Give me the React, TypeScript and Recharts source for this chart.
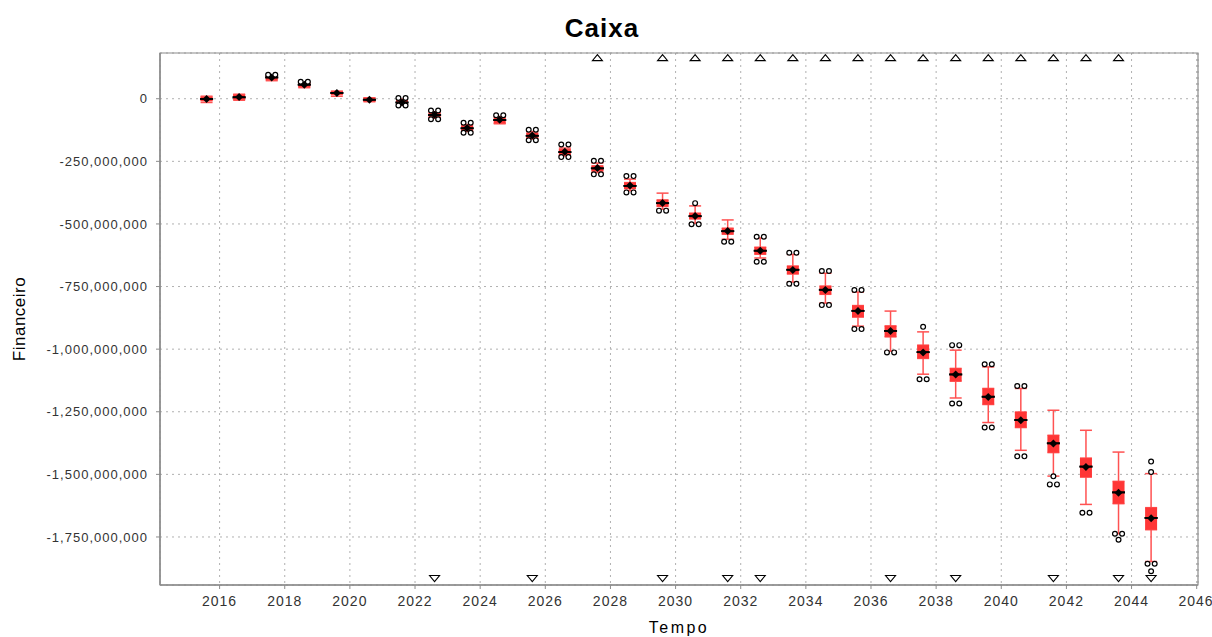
import React from "react";
import {
  CartesianGrid,
  ComposedChart,
  ErrorBar,
  ReferenceArea,
  Scatter,
  XAxis,
  YAxis
} from "recharts";

const M = 1000000;
const FONT = "'Liberation Sans', Arial, sans-serif";

// box positions on the time axis
const years = [
  2015.6, 2016.6, 2017.6, 2018.6, 2019.6, 2020.6, 2021.6, 2022.6, 2023.6, 2024.6,
  2025.6, 2026.6, 2027.6, 2028.6, 2029.6, 2030.6, 2031.6, 2032.6, 2033.6, 2034.6,
  2035.6, 2036.6, 2037.6, 2038.6, 2039.6, 2040.6, 2041.6, 2042.6, 2043.6, 2044.6
];

// values in millions
const means = [
  -1, 7, 85, 56, 23, -4, -15, -64, -117, -84,
  -147, -212, -277, -347, -416, -468, -528, -607, -684, -764,
  -848, -928, -1013, -1101, -1191, -1284, -1377, -1471, -1573, -1675
];
const medians = [
  -1, 6, 85, 56, 23, -4, -15, -65, -118, -85,
  -148, -213, -278, -348, -417, -469, -529, -607, -683, -763,
  -847, -927, -1012, -1101, -1190, -1283, -1376, -1469, -1572, -1674
];
const q3s = [
  7, 16, 90, 63, 29, 3, -6, -57, -108, -75,
  -137, -203, -268, -335, -404, -457, -517, -593, -668, -748,
  -826, -907, -984, -1077, -1157, -1251, -1344, -1435, -1528, -1633
];
const q1s = [
  -8, -2, 76, 47, 17, -10, -24, -75, -128, -98,
  -158, -226, -289, -359, -430, -480, -541, -621, -700, -781,
  -872, -951, -1037, -1128, -1221, -1313, -1413, -1511, -1617, -1721
];
const whiskerHighs = [
  10, 18, 92, 65, 30, 4, -2, -52, -103, -71,
  -131, -197, -257, -321, -377, -428, -484, -556, -622, -697,
  -772, -848, -931, -1004, -1071, -1157, -1244, -1324, -1411, -1497
];
const whiskerLows = [
  -15, -6, 72, 44, 10, -12, -25, -78, -131, -100,
  -161, -228, -295, -367, -441, -497, -561, -636, -732, -816,
  -908, -1008, -1100, -1195, -1293, -1404, -1507, -1620, -1737, -1848
];
const outliers: number[][] = [
  [], [], [96, 96], [68, 68], [], [], [3, 3, -27, -27], [-47, -47, -82, -82], [-96, -96, -136, -136], [-66, -66],
  [-124, -124, -166, -166], [-183, -183, -233, -233], [-248, -248, -302, -302], [-309, -309, -374, -374], [-447, -447],
  [-417, -501, -501], [-571, -571], [-551, -551, -651, -651], [-615, -615, -739, -739], [-688, -688, -824, -824],
  [-764, -764, -920, -920], [-1013, -1013], [-911, -1120, -1120], [-984, -984, -1217, -1217], [-1060, -1060, -1313, -1313],
  [-1147, -1147, -1428, -1428], [-1508, -1540, -1540], [-1653, -1653], [-1737, -1737, -1761], [-1449, -1491, -1857, -1857, -1887]
];

// years with values beyond the visible range
const farOutHighYears = [
  2027.6, 2029.6, 2030.6, 2031.6, 2032.6, 2033.6, 2034.6, 2035.6,
  2036.6, 2037.6, 2038.6, 2039.6, 2040.6, 2041.6, 2042.6, 2043.6
];
const farOutLowYears = [2022.6, 2025.6, 2029.6, 2031.6, 2032.6, 2036.6, 2038.6, 2041.6, 2043.6, 2044.6];
const farOutHighMarker = 164;
const farOutLowMarker = -1916;

const xTicks = [2016, 2018, 2020, 2022, 2024, 2026, 2028, 2030, 2032, 2034, 2036, 2038, 2040, 2042, 2044, 2046];
const yTicks = [0, -250, -500, -750, -1000, -1250, -1500, -1750].map((v) => v * M);

const boxes = years.map((x, i) => ({ x, y: q3s[i] * M, err: [(q3s[i] - q1s[i]) * M, 0] }));
const upperWhiskers = years.map((x, i) => ({ x, y: q3s[i] * M, err: [0, (whiskerHighs[i] - q3s[i]) * M] }));
const lowerWhiskers = years.map((x, i) => ({ x, y: q1s[i] * M, err: [(q1s[i] - whiskerLows[i]) * M, 0] }));
const meanPoints = years.map((x, i) => ({ x, y: means[i] * M }));
const medianPoints = years.map((x, i) => ({ x, y: medians[i] * M, err: [0, 0] }));
const outlierPoints = years.flatMap((x, i) =>
  outliers[i].map((v, k, list) => {
    const same = list.filter((w) => w === v).length;
    const rank = list.slice(0, k).filter((w) => w === v).length;
    return { x: x + (rank - (same - 1) / 2) * 0.22, y: v * M };
  })
);
const farHighPoints = farOutHighYears.map((x) => ({ x, y: farOutHighMarker * M }));
const farLowPoints = farOutLowYears.map((x) => ({ x, y: farOutLowMarker * M }));

const Hidden = () => <g />;

const MeanShape = ({ cx, cy }: any) => (
  <polygon points={`${cx},${cy - 4} ${cx + 4},${cy} ${cx},${cy + 4} ${cx - 4},${cy}`} fill="#000" />
);

const OutlierShape = ({ cx, cy }: any) => (
  <circle cx={cx} cy={cy} r={2.4} fill="#fff" stroke="#000" strokeWidth={1.2} />
);

const UpTriangle = ({ cx, cy }: any) => (
  <polygon points={`${cx - 5},${cy + 3} ${cx + 5},${cy + 3} ${cx},${cy - 3}`} fill="#fff" stroke="#000" strokeWidth={1.1} />
);

const DownTriangle = ({ cx, cy }: any) => (
  <polygon points={`${cx - 5},${cy - 3} ${cx + 5},${cy - 3} ${cx},${cy + 3}`} fill="#fff" stroke="#000" strokeWidth={1.1} />
);

const YTick = ({ x, y, payload }: any) => (
  <text x={x} y={y} dy="0.355em" textAnchor="end" fontSize={13} letterSpacing={1} fill="#333" fontFamily={FONT}>
    {Number(payload.value).toLocaleString("en-US")}
  </text>
);

const XTick = ({ x, y, payload }: any) => (
  <text x={x} y={y} dy="0.71em" textAnchor="middle" fontSize={14} letterSpacing={1} fill="#333" fontFamily={FONT}>
    {payload.value}
  </text>
);

export default function App() {
  return (
    <div style={{ position: "absolute", left: 0, top: 0, width: 1212, height: 637, background: "#fff", fontFamily: FONT }}>
      <svg width={1212} height={50} style={{ position: "absolute", left: 0, top: 0 }}>
        <text x={602} y={37} textAnchor="middle" fontSize={26} fontWeight="bold" letterSpacing={1} fill="#000" fontFamily={FONT}>
          Caixa
        </text>
      </svg>
      <div style={{ position: "absolute", left: 0, top: 0 }}>
        <ComposedChart width={1212} height={637} margin={{ top: 53, right: 14, bottom: 0, left: 0 }}>
          <CartesianGrid stroke="#b0b0b0" strokeDasharray="2 4" />
          <ReferenceArea x1={2014.17} x2={2046.04} y1={-1941.8 * M} y2={182.6 * M} fill="none" stroke="#8c8c8c" strokeWidth={1.2} />
          <XAxis
            type="number"
            dataKey="x"
            domain={[2014.17, 2046.04]}
            ticks={xTicks}
            allowDataOverflow
            height={52}
            tick={<XTick />}
            tickSize={4}
            tickMargin={7}
            stroke="#8c8c8c"
            axisLine={{ stroke: "#8c8c8c", strokeWidth: 1.5 }}
            label={{ value: "Tempo", position: "insideBottom", offset: 4, fontSize: 16, fill: "#000", letterSpacing: 2.5, fontFamily: FONT }}
          />
          <YAxis
            type="number"
            domain={[-1941.8 * M, 182.6 * M]}
            ticks={yTicks}
            allowDataOverflow
            width={160}
            tick={<YTick />}
            tickSize={4}
            tickMargin={8}
            stroke="#8c8c8c"
            axisLine={{ stroke: "#8c8c8c", strokeWidth: 1.5 }}
            label={{
              value: "Financeiro",
              angle: -90,
              position: "insideLeft",
              offset: 19,
              fontSize: 17,
              fill: "#000",
              letterSpacing: 0.5,
              fontFamily: FONT,
              style: { textAnchor: "middle" }
            }}
          />
          <Scatter data={upperWhiskers} dataKey="y" shape={<Hidden />} isAnimationActive={false}>
            <ErrorBar dataKey="err" direction="y" width={6} stroke="#ff5252" strokeWidth={1.5} isAnimationActive={false} />
          </Scatter>
          <Scatter data={lowerWhiskers} dataKey="y" shape={<Hidden />} isAnimationActive={false}>
            <ErrorBar dataKey="err" direction="y" width={6} stroke="#ff5252" strokeWidth={1.5} isAnimationActive={false} />
          </Scatter>
          <Scatter data={boxes} dataKey="y" shape={<Hidden />} isAnimationActive={false}>
            <ErrorBar dataKey="err" direction="y" width={0} stroke="#ff3636" strokeWidth={12} isAnimationActive={false} />
          </Scatter>
          <Scatter data={medianPoints} dataKey="y" shape={<Hidden />} isAnimationActive={false}>
            <ErrorBar dataKey="err" direction="y" width={6.5} stroke="#000" strokeWidth={1.8} isAnimationActive={false} />
          </Scatter>
          <Scatter data={meanPoints} dataKey="y" shape={<MeanShape />} isAnimationActive={false} />
          <Scatter data={outlierPoints} dataKey="y" shape={<OutlierShape />} isAnimationActive={false} />
          <Scatter data={farHighPoints} dataKey="y" shape={<UpTriangle />} isAnimationActive={false} />
          <Scatter data={farLowPoints} dataKey="y" shape={<DownTriangle />} isAnimationActive={false} />
        </ComposedChart>
      </div>
    </div>
  );
}
